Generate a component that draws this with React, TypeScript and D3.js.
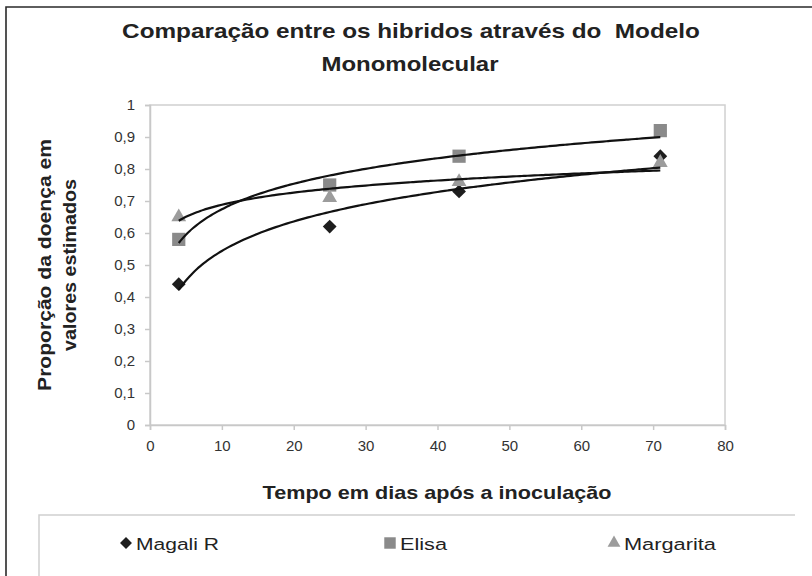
import React from 'react';
import * as d3 from 'd3';

// days after inoculation
const days = [4, 25, 43, 71];
const magali = [0.44, 0.62, 0.73, 0.84];
const elisa = [0.58, 0.75, 0.84, 0.92];
const margarita = [0.65, 0.71, 0.76, 0.82];

const seriesNames = ['Magali R', 'Elisa', 'Margarita'];
const xTicks = [0, 10, 20, 30, 40, 50, 60, 70, 80];
const yTicks = [0, 0.1, 0.2, 0.3, 0.4, 0.5, 0.6, 0.7, 0.8, 0.9, 1];

const FONT = 'Arial, "Liberation Sans", sans-serif';

// least squares fit y = a + b*ln(x)
function logFit(xs: number[], ys: number[]) {
  const lx = xs.map((x) => Math.log(x));
  const mx = d3.mean(lx) as number;
  const my = d3.mean(ys) as number;
  let sxy = 0;
  let sxx = 0;
  lx.forEach((v, i) => {
    sxy += (v - mx) * (ys[i] - my);
    sxx += (v - mx) * (v - mx);
  });
  const b = sxy / sxx;
  const a = my - b * mx;
  return (x: number) => a + b * Math.log(x);
}

const App: React.FC = () => {
  const svgRef = React.useRef<SVGSVGElement>(null);
  const width = 812;
  const height = 576;
  const margin = { top: 105, left: 150 };
  const plotW = 575;
  const plotH = 320;

  React.useEffect(() => {
    const xScale = d3.scaleLinear().domain([0, 80]).range([0, plotW]);
    const yScale = d3.scaleLinear().domain([0, 1]).range([plotH, 0]);

    const svgEl = d3.select(svgRef.current);
    svgEl.selectAll('*').remove();

    // outer frame (only left and top visible)
    svgEl
      .append('path')
      .attr('d', `M6,${height + 5} L6,7 L${width + 5},7`)
      .attr('fill', 'none')
      .attr('stroke', '#2a2a2a')
      .attr('stroke-width', 1.6);

    // text whose glyphs are scaled horizontally to a given width
    const label = (
      parent: any,
      txt: string,
      x: number,
      y: number,
      size: number,
      w: number,
      bold: boolean,
      anchor = 'middle'
    ) => {
      const t = parent
        .append('text')
        .attr('x', x)
        .attr('y', y)
        .attr('text-anchor', anchor)
        .attr('font-family', FONT)
        .attr('font-weight', bold ? 'bold' : 'normal')
        .attr('font-size', size)
        .attr('fill', '#222')
        .text(txt);
      const natural = (t.node() as SVGTextElement).getComputedTextLength();
      const k = w / natural;
      const ax = anchor === 'middle' ? x : x;
      t.attr('transform', `translate(${ax},0) scale(${k},1) translate(${-ax},0)`);
      return t;
    };

    // title
    label(svgEl, 'Comparação entre os hibridos através do\u00a0 Modelo', 411, 38, 21, 578, true);
    label(svgEl, 'Monomolecular', 410, 71, 21, 177, true);

    const svg = svgEl.append('g').attr('transform', `translate(${margin.left},${margin.top})`);

    // plot frame
    svg
      .append('rect')
      .attr('x', 0)
      .attr('y', 0)
      .attr('width', plotW)
      .attr('height', plotH)
      .attr('fill', 'none')
      .attr('stroke', '#d0d0d0')
      .attr('stroke-width', 1.5);

    const xAxis = d3.axisBottom(xScale).tickValues(xTicks).tickSize(5).tickPadding(10).tickFormat((d) => `${d}`);
    const xg = svg.append('g').attr('transform', `translate(0,${plotH})`).call(xAxis);
    xg.select('.domain').attr('stroke', '#c8c8c8').attr('stroke-width', 1.5);
    xg.selectAll('line').attr('stroke', '#c8c8c8').attr('stroke-width', 1.5);
    xg.selectAll('text')
      .attr('font-family', FONT)
      .attr('font-size', 15)
      .attr('fill', '#333');

    const yAxis = d3
      .axisLeft(yScale)
      .tickValues(yTicks)
      .tickSize(5)
      .tickPadding(10)
      .tickFormat((d) => d3.format('.1~f')(d as number).replace('.', ','));
    const yg = svg.append('g').call(yAxis);
    yg.select('.domain').attr('stroke', '#c8c8c8').attr('stroke-width', 1.5);
    yg.selectAll('line').attr('stroke', '#c8c8c8').attr('stroke-width', 1.5);
    yg.selectAll('text')
      .attr('font-family', FONT)
      .attr('font-size', 15)
      .attr('fill', '#333');

    // axis titles
    label(svgEl, 'Tempo em dias após a inoculação', 437, 499, 18, 349, true);

    const yt = svgEl.append('g').attr('transform', 'translate(0,265) rotate(-90)');
    label(yt, 'Proporção da doença em', 0, 51, 18, 252, true);
    label(yt, 'valores estimados', 0, 76, 18, 172, true);

    const allSeries = [
      { name: seriesNames[0], values: magali, color: '#1e1e1e', symbol: d3.symbolSquare, size: 95, rot: 45 },
      { name: seriesNames[1], values: elisa, color: '#8a8a8a', symbol: d3.symbolSquare, size: 175, rot: 0 },
      { name: seriesNames[2], values: margarita, color: '#9c9c9c', symbol: d3.symbolTriangle, size: 95, rot: 0 },
    ];

    // markers
    allSeries.forEach((s) => {
      svg
        .selectAll(null)
        .data(s.values)
        .enter()
        .append('path')
        .attr('d', d3.symbol().type(s.symbol).size(s.size)())
        .attr('transform', (d, i) => `translate(${xScale(days[i])},${yScale(d)}) rotate(${s.rot})`)
        .attr('fill', s.color);
    });

    // trend curves
    const line = d3
      .line<number>()
      .x((d) => xScale(d))
      .curve(d3.curveMonotoneX);
    const tSteps = d3.range(days[0], days[days.length - 1] + 0.001, 0.5);
    allSeries.forEach((s) => {
      const f = logFit(days, s.values);
      svg
        .append('path')
        .attr('fill', 'none')
        .attr('stroke', '#111')
        .attr('stroke-width', 2.2)
        .attr('d', line.y((d) => yScale(f(d)))(tSteps));
    });

    // legend
    const lg = svgEl.append('g');
    lg.append('path')
      .attr('d', `M39,${height + 5} L39,515 L795,515`)
      .attr('fill', 'none')
      .attr('stroke', '#d0d0d0')
      .attr('stroke-width', 1.5);
    const legendX = [126, 390, 614];
    const legendW = [83, 47, 92];
    allSeries.forEach((s, i) => {
      lg.append('path')
        .attr('d', d3.symbol().type(s.symbol).size(s.size * 0.75)())
        .attr('transform', `translate(${legendX[i]},543) rotate(${s.rot})`)
        .attr('fill', s.color);
      label(lg, s.name, legendX[i] + 10, 550, 17, legendW[i], false, 'start');
    });
  }, []);

  return (
    <svg
      ref={svgRef}
      width={width}
      height={height}
      style={{ position: 'absolute', left: 0, top: 0, background: '#fff' }}
    />
  );
};

export default App;
